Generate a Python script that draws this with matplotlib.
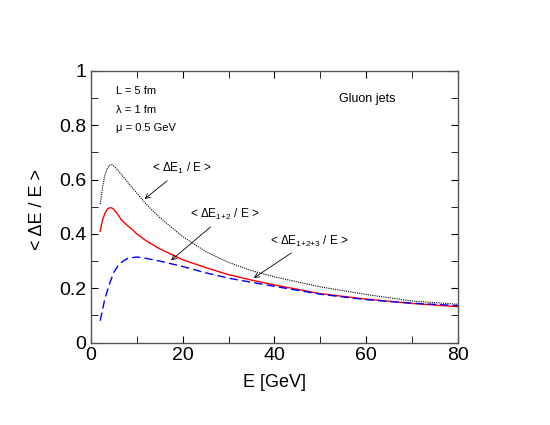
import matplotlib
matplotlib.use("Agg")
import matplotlib.pyplot as plt
from matplotlib.ticker import MultipleLocator

plt.rcParams['font.family'] = ['Liberation Sans', 'DejaVu Sans']
plt.rcParams['mathtext.fontset'] = 'custom'
plt.rcParams['mathtext.rm'] = 'Liberation Sans'
plt.rcParams['mathtext.it'] = 'Liberation Sans'
plt.rcParams['mathtext.default'] = 'rm'

# values
e1 = [2, 2.5, 3, 3.5, 4, 4.5, 5, 6, 8, 10, 12, 15, 20, 25, 30, 35, 40, 50, 60, 70, 80]
de1 = [0.51, 0.57, 0.615, 0.64, 0.652, 0.655, 0.65, 0.632, 0.59, 0.55, 0.51, 0.46,
       0.39, 0.335, 0.295, 0.265, 0.242, 0.205, 0.177, 0.153, 0.141]

e12 = [2, 2.5, 3, 3.5, 4, 4.5, 5, 6, 6.6, 8, 8.8, 10, 12, 15, 20, 25, 30, 35, 40,
       50, 60, 70, 80]
de12 = [0.41, 0.45, 0.475, 0.49, 0.496, 0.496, 0.49, 0.468, 0.452, 0.43, 0.419,
        0.40, 0.375, 0.345, 0.305, 0.276, 0.25, 0.23, 0.212, 0.18, 0.16, 0.144, 0.132]

e123 = [2, 3, 4, 5, 6, 7, 8, 10, 12, 15, 20, 25, 30, 40, 50, 60, 70, 80]
de123 = [0.08, 0.16, 0.215, 0.26, 0.285, 0.30, 0.31, 0.315, 0.31, 0.30, 0.28,
         0.257, 0.237, 0.207, 0.178, 0.158, 0.145, 0.136]

fig = plt.figure(figsize=(5.5, 4.25), dpi=100)
ax = fig.add_axes([0.1655, 0.194, 0.667, 0.639])

ax.plot(e1, de1, color='black', linestyle=(0, (1, 1)), linewidth=0.8)
ax.plot(e12, de12, color='red', linestyle='-', linewidth=1.0)
ax.plot(e123, de123, color='blue', linestyle=(0, (6, 3)), linewidth=1.0)

ax.set_xlim(0, 80)
ax.set_ylim(0, 1)
ax.xaxis.set_major_locator(MultipleLocator(20))
ax.xaxis.set_minor_locator(MultipleLocator(10))
ax.yaxis.set_major_locator(MultipleLocator(0.2))
ax.yaxis.set_minor_locator(MultipleLocator(0.1))
ax.yaxis.set_major_formatter(plt.FuncFormatter(lambda v, p: '%g' % round(v, 2)))
ax.tick_params(which='both', direction='in', top=True, right=True, labelsize=14)
ax.tick_params(which='major', length=5)
ax.tick_params(which='minor', length=5)
for s in ax.spines.values():
    s.set_color('#555555')
    s.set_linewidth(1.0)

ax.set_xlabel('E [GeV]', fontsize=13)
ax.set_ylabel('< ΔE / E >', fontsize=13)
ax.xaxis.set_label_coords(0.5, -0.115)
ax.yaxis.set_label_coords(-0.122, 0.49)

ax.text(5.5, 0.925, 'L = 5 fm', fontsize=8, va='center')
ax.text(5.5, 0.857, 'λ = 1 fm', fontsize=8, va='center')
ax.text(5.5, 0.789, 'μ = 0.5 GeV', fontsize=8, va='center')
ax.text(54, 0.898, 'Gluon jets', fontsize=9, va='center')

arrow = dict(arrowstyle='->', color='black', lw=0.6)
ax.annotate('< ΔE$_1$ / E >', xy=(11.2, 0.522), xytext=(13.3, 0.64),
            fontsize=8.5, va='center', ha='left', arrowprops=arrow)
ax.annotate('< ΔE$_{1{+}2}$ / E >', xy=(17, 0.296), xytext=(21.6, 0.47),
            fontsize=8.5, va='center', ha='left', arrowprops=arrow)
ax.annotate('< ΔE$_{1{+}2{+}3}$ / E >', xy=(35, 0.232), xytext=(39, 0.374),
            fontsize=8.5, va='center', ha='left', arrowprops=arrow)

fig.savefig('out.png', dpi=100)
